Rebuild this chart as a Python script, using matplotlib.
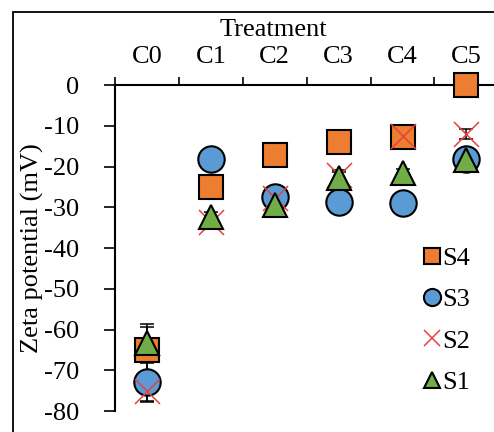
import numpy as np
import matplotlib.pyplot as plt
from matplotlib.patches import Rectangle

plt.rcParams['font.family'] = ['Liberation Serif', 'DejaVu Serif']
plt.rcParams['font.size'] = 19

treatments = ['C0', 'C1', 'C2', 'C3', 'C4', 'C5']

s4 = [-65.0, -25.0, -17.2, -13.9, -12.8, 0.0]
s4_err = [5.7, 1.0, 0.8, 0.9, 1.1, 0.6]
s3 = [-72.8, -18.2, -27.4, -28.6, -29.0, -18.2]
s3_err = [4.9, 0.9, 1.2, 0.7, 0.8, 1.0]
s2 = [-75.0, -33.5, -27.8, -22.0, -12.5, -12.0]
s2_err = [2.5, 1.0, 1.3, 1.1, 0.9, 1.3]
s1 = [-63.4, -32.3, -29.4, -22.8, -21.6, -18.3]
s1_err = [4.7, 1.2, 0.9, 1.4, 1.0, 1.1]

yticks = [0, -10, -20, -30, -40, -50, -60, -70, -80]

fig = plt.figure(figsize=(4.94, 4.32), dpi=100)
ax = fig.add_axes([0.2328, 0.0486, 0.776, 0.7546])

# outer frame
fig.patches.append(Rectangle((0.026, -0.1), 1.2, 1.0715, transform=fig.transFigure,
                             fill=False, edgecolor='black', linewidth=1.3))

x = np.arange(len(treatments))

series = [
    (s4, s4_err, 's', '#ED7D31', 'black', 17, 'S4'),
    (s3, s3_err, 'o', '#5B9BD5', 'black', 19, 'S3'),
    (s2, s2_err, 'x', '#E8413C', '#E8413C', 18, 'S2'),
    (s1, s1_err, '^', '#70AD47', 'black', 17, 'S1'),
]

# error bars sit behind all markers
for vals, err, m, fc, ec, ms, lab in series:
    ax.errorbar(x, vals, yerr=err, fmt='none', ecolor='black', elinewidth=1.1,
                capsize=4.7, capthick=1.1, zorder=2, clip_on=False)

handles = []
for i, (vals, err, m, fc, ec, ms, lab) in enumerate(series):
    if m == 'x':
        h, = ax.plot(x, vals, linestyle='none', marker=m, markersize=ms,
                     color=fc, markeredgewidth=1.1, zorder=3 + i, clip_on=False, label=lab)
    else:
        h, = ax.plot(x, vals, linestyle='none', marker=m, markersize=ms,
                     markerfacecolor=fc, markeredgecolor=ec, markeredgewidth=1.5,
                     zorder=3 + i, clip_on=False, label=lab)
    handles.append(h)

ax.set_xlim(-0.5, 5.5)
ax.set_ylim(-80, 0)

ax.xaxis.tick_top()
ax.xaxis.set_label_position('top')
ax.set_xticks(x)
ax.set_xticklabels(treatments)
ax.set_xticks(np.arange(-0.5, 6.0, 1.0), minor=True)
ax.tick_params(axis='x', which='major', length=0, pad=12)
ax.tick_params(axis='x', which='minor', length=6, width=1.2, direction='out')
ax.set_yticks(yticks)
ax.set_yticklabels([str(v) for v in yticks])
ax.tick_params(axis='y', length=8, width=1.2, direction='out', pad=17.5)

for side in ['right', 'bottom']:
    ax.spines[side].set_visible(False)
for side in ['left', 'top']:
    ax.spines[side].set_linewidth(1.5)

ax.set_xlabel('Treatment', labelpad=0)
ax.xaxis.set_label_coords(0.412, 1.15)
ax.set_ylabel('Zeta potential (mV)')
ax.yaxis.set_label_coords(-0.185, 0.5)

leg = ax.legend(handles=handles, loc='upper left', bbox_to_anchor=(0.806, 0.505),
                frameon=False, markerscale=0.65, handlelength=0.6, handletextpad=0.08,
                labelspacing=0.68, borderpad=0, borderaxespad=0)

fig.savefig('out.png', dpi=100)
